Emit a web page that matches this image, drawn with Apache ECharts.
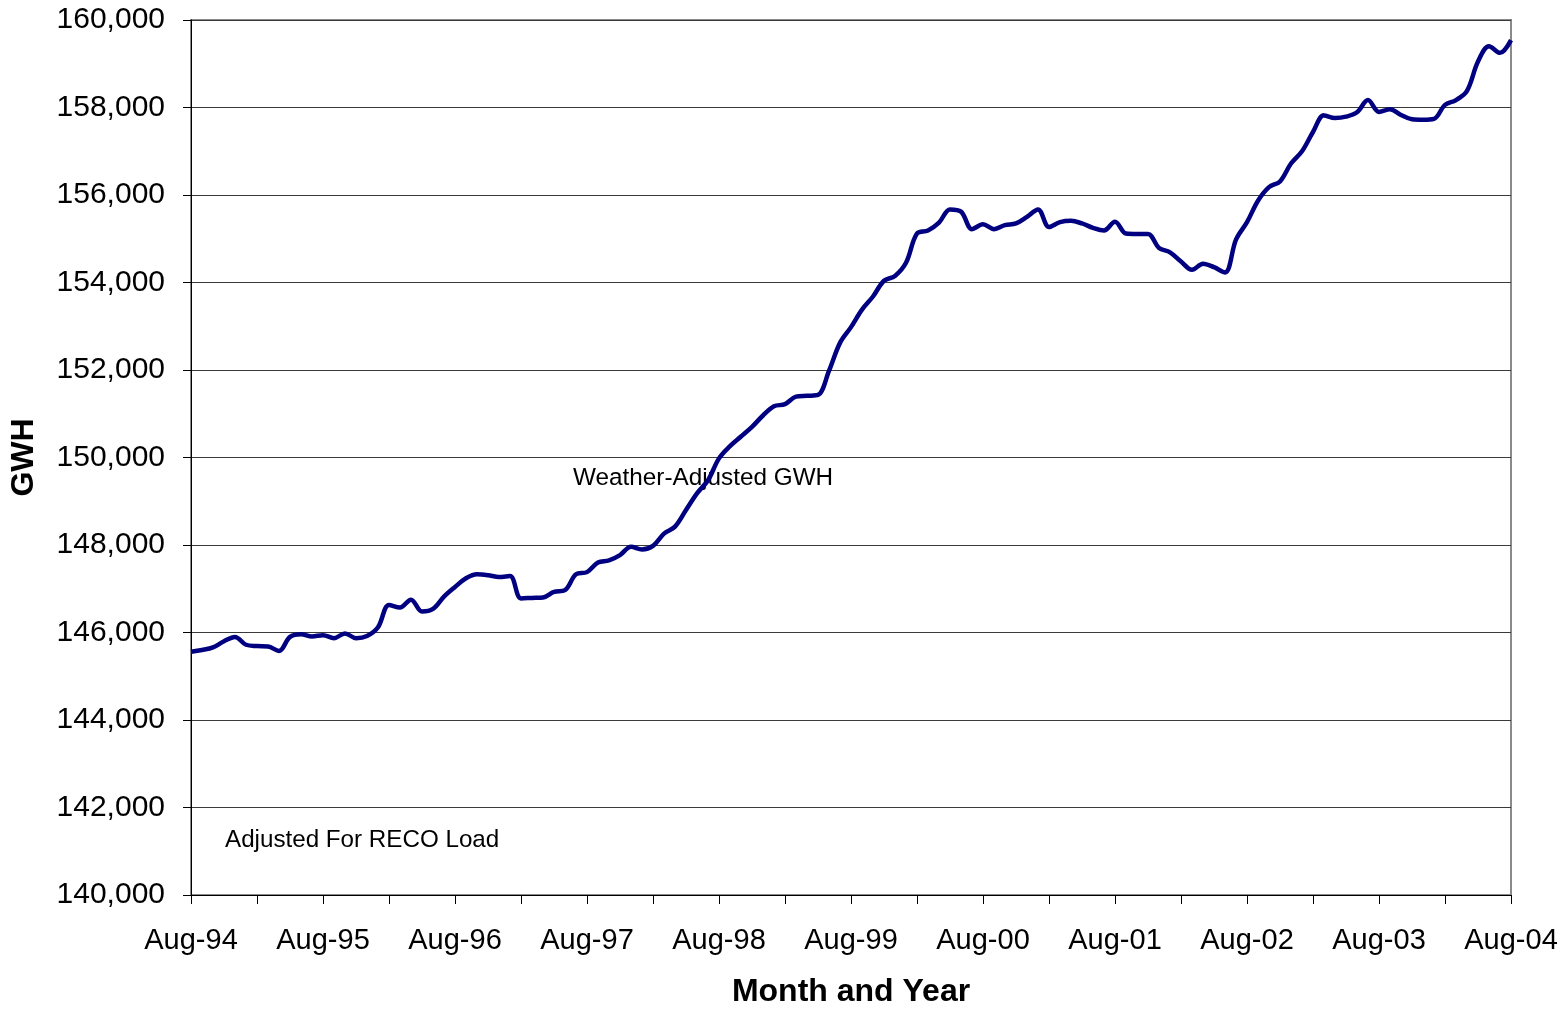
<!DOCTYPE html>
<html>
<head>
<meta charset="utf-8">
<title>Weather-Adjusted GWH</title>
<script src="https://cdn.jsdelivr.net/npm/echarts@6/dist/echarts.min.js"></script>
<style>
  html, body { margin: 0; padding: 0; background: #ffffff; }
  #chart { width: 1568px; height: 1010px; }
</style>
</head>
<body>
<div id="chart"></div>
<script>
// Month labels, Aug-94 through Aug-04 (rolling 12-month weather-adjusted energy)
const monthNames = ['Jan', 'Feb', 'Mar', 'Apr', 'May', 'Jun', 'Jul', 'Aug', 'Sep', 'Oct', 'Nov', 'Dec'];
const startMonth = 7;   // August
const startYear = 1994;
const monthCount = 121;

const categories = [];
for (let i = 0; i < monthCount; i++) {
  const m = (startMonth + i) % 12;
  const y = startYear + Math.floor((startMonth + i) / 12);
  categories.push(monthNames[m] + '-' + String(y % 100).padStart(2, '0'));
}

// Weather-adjusted GWH, one value per month
const weatherAdjustedGwh = [
  145560, 145600, 145660, 145800, 145900, 145720, 145690, 145680, 145580, 145900,
  145960, 145910, 145940, 145870, 145980, 145870, 145920, 146120, 146630, 146570,
  146750, 146480, 146540, 146820, 147040, 147240, 147330, 147310, 147270, 147290,
  146780, 146790, 146800, 146930, 146970, 147330, 147380, 147600, 147650, 147770,
  147960, 147900, 147980, 148260, 148420, 148800, 149180, 149480, 149980, 150260,
  150480, 150700, 150960, 151170, 151220, 151390, 151410, 151430, 151980, 152620,
  152980, 153380, 153680, 154040, 154150, 154450, 155120, 155190, 155370, 155670,
  155620, 155220, 155330, 155220, 155310, 155350, 155500, 155670, 155270, 155380,
  155410, 155350, 155250, 155190, 155390, 155120, 155110, 155110, 154790, 154690,
  154480, 154290, 154430, 154350, 154230, 154980, 155380, 155870, 156180, 156310,
  156720, 157000, 157440, 157820, 157760, 157790, 157890, 158170, 157900, 157960,
  157830, 157730, 157720, 157740, 158060, 158170, 158380, 159050, 159400, 159250,
  159540
];

// Value axis range and step
const yMin = 140000;
const yMax = 160000;
const yStep = 2000;

const fontFamily = '"Liberation Sans", Arial, Helvetica, sans-serif';

const chart = echarts.init(document.getElementById('chart'), null, { renderer: 'canvas' });

chart.setOption({
  animation: false,
  backgroundColor: '#ffffff',
  grid: {
    left: 191,
    right: 57,
    top: 20,
    bottom: 115,
    containLabel: false,
    outerBoundsMode: 'none',
    show: true,
    borderColor: '#8a8a8a',
    borderWidth: 2,
    backgroundColor: 'transparent'
  },
  xAxis: {
    type: 'category',
    data: categories,
    boundaryGap: false,
    name: 'Month and Year',
    nameLocation: 'middle',
    nameGap: 81,
    nameTextStyle: { fontFamily, fontSize: 32, fontWeight: 'bold', color: '#000' },
    axisLine: { show: true, lineStyle: { color: '#000', width: 1 } },
    axisTick: { show: true, interval: 5, length: 9, lineStyle: { color: '#000', width: 1 } },
    axisLabel: {
      interval: 11,
      margin: 31,
      fontFamily,
      fontSize: 29,
      color: '#000'
    },
    splitLine: { show: false }
  },
  yAxis: {
    type: 'value',
    min: yMin,
    max: yMax,
    interval: yStep,
    name: 'GWH',
    nameLocation: 'middle',
    nameGap: 151,
    nameRotate: 90,
    nameTextStyle: { fontFamily, fontSize: 32, fontWeight: 'bold', color: '#000' },
    axisLine: { show: true, lineStyle: { color: '#000', width: 1 } },
    axisTick: { show: true, inside: false, length: 8, lineStyle: { color: '#000', width: 1 } },
    axisLabel: {
      margin: 26,
      fontFamily,
      fontSize: 30,
      color: '#000',
      formatter: v => v.toLocaleString('en-US')
    },
    splitLine: { show: true, lineStyle: { color: '#3a3a3a', width: 1 } }
  },
  graphic: [
    {
      type: 'text',
      left: 573,
      top: 466,
      style: { text: 'Weather-Adjusted GWH', fontFamily, fontSize: 24.3, fill: '#000' }
    },
    {
      type: 'text',
      left: 225,
      top: 828,
      style: { text: 'Adjusted For RECO Load', fontFamily, fontSize: 24.2, fill: '#000' }
    }
  ],
  series: [
    {
      name: 'Weather-Adjusted GWH',
      type: 'line',
      data: weatherAdjustedGwh,
      smooth: 0.35,
      showSymbol: false,
      lineStyle: { color: '#000080', width: 4.5 },
      itemStyle: { color: '#000080' },
      z: 3
    }
  ]
});
</script>
</body>
</html>
